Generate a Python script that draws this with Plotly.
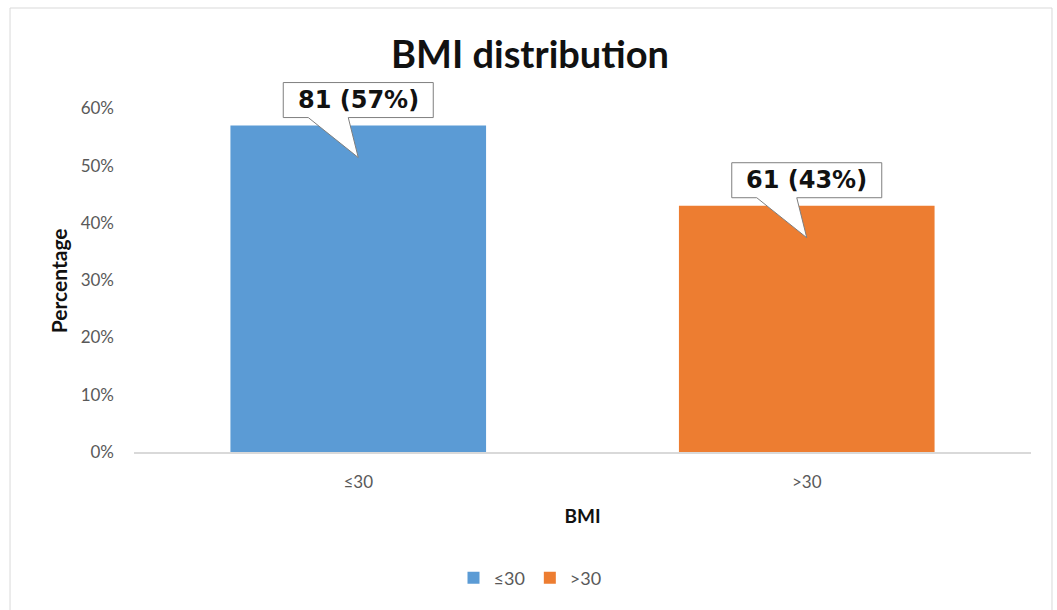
import plotly.graph_objects as go

categories = ["≤30", ">30"]
percentages = [0.57, 0.43]
counts = [81, 61]
colors = ["#5B9BD5", "#ED7D31"]

fig = go.Figure()
for cat, pct, col in zip(categories, percentages, colors):
    fig.add_trace(go.Bar(x=[cat], y=[pct], name=cat, marker=dict(color=col, line=dict(width=0))))

# callout shapes (pixel offsets anchored at bar top) and label text
callout_path = "M-75,8 L-50,8 L0,-32 L-10,8 L75,8 L75,43 L-75,43 Z"
for cat, pct, n in zip(categories, percentages, counts):
    fig.add_shape(type="path", xref="x", yref="y", xsizemode="pixel", ysizemode="pixel",
                  xanchor=cat, yanchor=pct, path=callout_path,
                  fillcolor="white", line=dict(color="#7f7f7f", width=1), layer="above")
    fig.add_annotation(x=cat, y=pct, yshift=25.5, showarrow=False,
                       text=f"{n} ({round(pct*100)}%)",
                       font=dict(family="DejaVu Sans", size=24, color="#111111", weight="bold"),
                       xanchor="center", yanchor="middle")

# y axis title
fig.add_annotation(text="<b>Percentage</b>", xref="paper", yref="paper", x=-0.0847, y=0.452,
                   textangle=-90, showarrow=False, xanchor="center", yanchor="middle",
                   font=dict(family="Lato", size=21, color="#111111"))

# chart border
fig.add_shape(type="rect", xref="paper", yref="paper", x0=-0.1382, x1=1.0234, y0=-0.431, y1=1.1746,
              line=dict(color="#d9d9d9", width=1), fillcolor="rgba(0,0,0,0)", layer="below")

fig.update_layout(
    width=1057, height=610,
    margin=dict(l=134, r=26, t=74, b=158),
    paper_bgcolor="white", plot_bgcolor="white",
    barmode="overlay", bargap=0.43,
    title=dict(text="<b>BMI distribution</b>", x=530/1057, xanchor="center", y=1-55/610, yanchor="middle",
               font=dict(family="Lato", size=38, color="#111111")),
    font=dict(family="Lato", size=17, color="#595959"),
    legend=dict(orientation="h", xref="container", yref="container", x=530/1057, xanchor="center",
                y=1-578/610, yanchor="middle", font=dict(family="Lato", size=18, color="#595959"),
                itemwidth=30),
    showlegend=True,
)
fig.update_xaxes(showgrid=False, showline=True, linecolor="#d9d9d9", linewidth=1.5, ticks="",
                 ticklabelstandoff=14, tickfont=dict(family="Lato", size=17, color="#595959"),
                 title=dict(text="<b>BMI</b>", standoff=19, font=dict(family="Lato", size=19, color="#111111")))
fig.update_yaxes(range=[0, 0.66], dtick=0.1, tickformat=".0%", showgrid=False, showline=False, zeroline=False,
                 ticks="", ticklabelstandoff=19, tickfont=dict(family="Lato", size=17, color="#595959"))

fig.write_html("out.html")
